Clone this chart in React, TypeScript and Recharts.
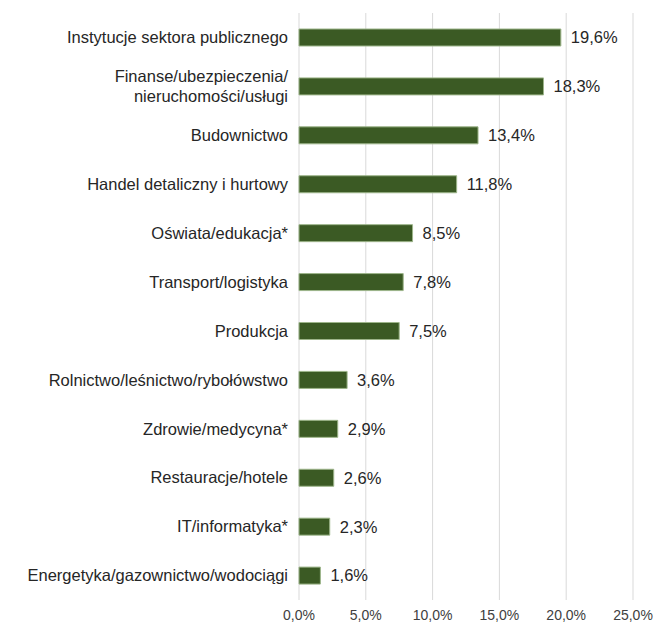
import { BarChart, Bar, XAxis, YAxis, CartesianGrid, LabelList } from "recharts";

const branze = [
  "Instytucje sektora publicznego",
  "Finanse/ubezpieczenia/\nnieruchomości/usługi",
  "Budownictwo",
  "Handel detaliczny i hurtowy",
  "Oświata/edukacja*",
  "Transport/logistyka",
  "Produkcja",
  "Rolnictwo/leśnictwo/rybołówstwo",
  "Zdrowie/medycyna*",
  "Restauracje/hotele",
  "IT/informatyka*",
  "Energetyka/gazownictwo/wodociągi",
];

const udzial = [19.6, 18.3, 13.4, 11.8, 8.5, 7.8, 7.5, 3.6, 2.9, 2.6, 2.3, 1.6];

const osX = [0, 5, 10, 15, 20, 25];

const dane = branze.map((nazwa, i) => ({ nazwa, udzial: udzial[i] }));

const procent = (v: number) => v.toFixed(1).replace(".", ",") + "%";

const font = "'Liberation Sans', Arial, sans-serif";
const rozmiar = 16.5;

const BranzaTick = (props: any) => {
  const { x, y, payload } = props;
  const linie = String(payload.value).split("\n");
  const start = -((linie.length - 1) * 20) / 2;
  return (
    <text x={x} y={y} textAnchor="end" fill="#262626" fontSize={rozmiar} fontFamily={font}>
      {linie.map((l: string, i: number) => (
        <tspan key={i} x={x} y={y + start + i * 20} dy="0.35em">
          {l}
        </tspan>
      ))}
    </text>
  );
};

export default function App() {
  return (
    <div style={{ position: "fixed", left: 0, top: 0, width: 654, height: 628, background: "#fff" }}>
      <BarChart
        width={654}
        height={628}
        data={dane}
        layout="vertical"
        margin={{ top: 13, right: 21, left: 0, bottom: 0 }}
      >
        <CartesianGrid horizontal={false} stroke="#d9d9d9" />
        <XAxis
          type="number"
          domain={[0, 25]}
          ticks={osX}
          tickFormatter={procent}
          axisLine={false}
          tickLine={false}
          tickSize={0}
          tickMargin={10}
          height={28}
          interval={0}
          tick={{ fill: "#404040", fontSize: 14, fontFamily: font }}
        />
        <YAxis
          type="category"
          dataKey="nazwa"
          width={299}
          axisLine={false}
          tickLine={false}
          tickSize={0}
          tickMargin={11}
          interval={0}
          tick={<BranzaTick />}
        />
        <Bar dataKey="udzial" fill="#3b5a24" stroke="#9db58a" strokeWidth={1} barSize={17} isAnimationActive={false}>
          <LabelList
            dataKey="udzial"
            position="right"
            offset={10}
            formatter={(v: any) => procent(Number(v))}
            style={{ fill: "#262626", fontSize: rozmiar, fontFamily: font }}
          />
        </Bar>
      </BarChart>
    </div>
  );
}
